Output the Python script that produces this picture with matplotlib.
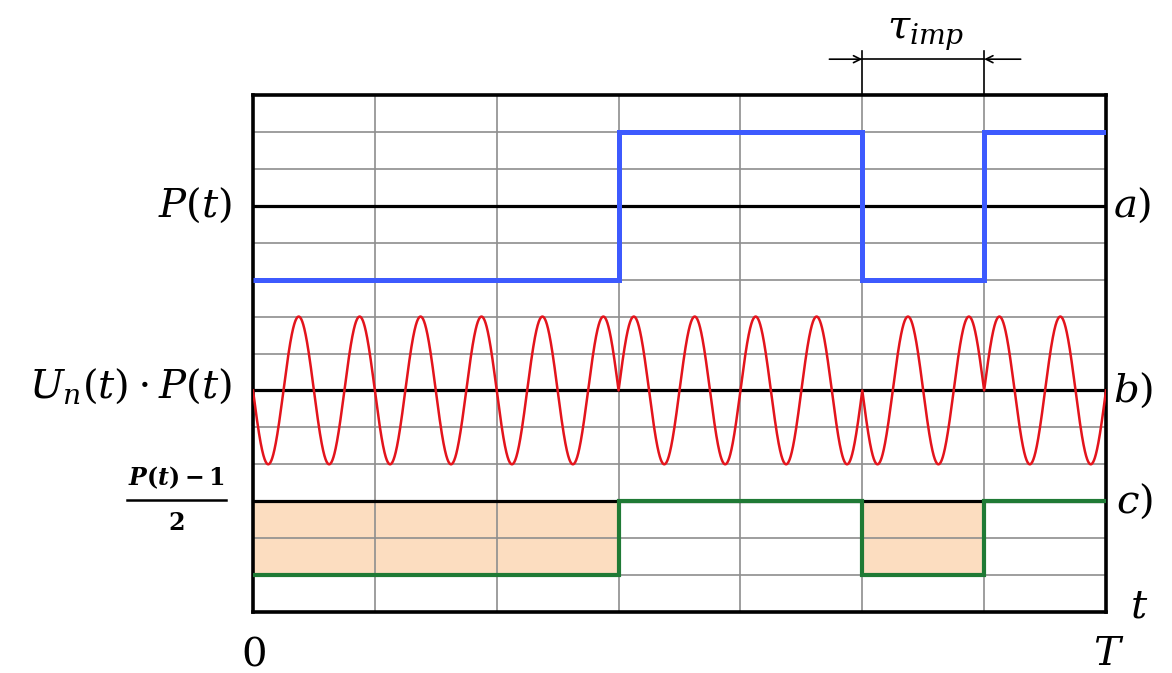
import matplotlib
matplotlib.use("Agg")
import matplotlib.pyplot as plt
import numpy as np

plt.rcParams.update(
    {
        "mathtext.fontset": "dejavuserif",
        "font.family": ["DejaVu Serif"],
    }
)

# switching instants of P(t) (units of the grid) and the level on each interval
T_EDGES = [0, 3, 5, 6, 7]
P_LEVELS = [-1, 1, -1, 1]

# trace baselines / amplitudes on the 0..14 vertical grid
A_BASE, A_AMP = 11, 2
B_BASE, B_AMP = 6, 2
C_BASE, C_AMP = 3, 2
CARRIER_PERIOD = 0.5

N_XDIV = 7
N_YDIV = 14

BLUE = "#3D5AFE"
RED = "#E3141C"
GREEN = "#1F7A35"
PEACH = "#FCDDC0"
GRID = "#8E8E8E"


def main() -> None:
    edges = np.array(T_EDGES, dtype=float)
    levels = np.array(P_LEVELS, dtype=float)

    fig = plt.figure(figsize=(11.72, 6.73), dpi=100)
    ax = fig.add_axes([253 / 1172, 1 - 612 / 673, 853 / 1172, 517 / 673])
    ax.set_xlim(0, N_XDIV)
    ax.set_ylim(0, N_YDIV)

    # grid
    ax.set_xticks(np.arange(N_XDIV + 1))
    ax.set_yticks(np.arange(N_YDIV + 1))
    ax.tick_params(length=0, labelbottom=False, labelleft=False)
    ax.set_axisbelow("line")
    ax.grid(True, color=GRID, linewidth=1.2)
    for s in ax.spines.values():
        s.set_linewidth(2.6)
        s.set_color("black")

    # reference (zero) lines of the three traces
    for yb in (A_BASE, B_BASE, C_BASE):
        ax.axhline(yb, color="black", linewidth=2.3, zorder=1.8)

    # a) P(t)
    ax.stairs(A_BASE + A_AMP * levels, edges, baseline=None, color=BLUE, linewidth=3.6, zorder=3)

    # b) U_n(t) * P(t)
    t = np.linspace(0, N_XDIV, 6000)
    p = levels[np.clip(np.searchsorted(edges, t, side="right") - 1, 0, len(levels) - 1)]
    u = np.sin(2 * np.pi * t / CARRIER_PERIOD)
    ax.plot(t, B_BASE + B_AMP * u * p, color=RED, linewidth=1.8, zorder=3)

    # c) (P(t)-1)/2
    c_vals = C_BASE + C_AMP * (levels - 1) / 2
    ax.stairs(c_vals, edges, baseline=C_BASE, fill=True, color=PEACH, linewidth=0, zorder=1)
    ax.stairs(c_vals, edges, baseline=None, color=GREEN, linewidth=3.0, zorder=3)

    # labels
    fs = 29
    ax.text(-0.17, A_BASE, r"$P(t)$", ha="right", va="center", fontsize=fs, clip_on=False)
    ax.text(-0.17, B_BASE + 0.1, r"$U_n(t)\cdot P(t)$", ha="right", va="center", fontsize=fs, clip_on=False)
    ax.text(-0.63, 3.63, r"$\mathbfit{P}\mathbf{(}\mathbfit{t}\mathbf{)-1}$", ha="center", va="center",
            fontsize=17, clip_on=False)
    ax.plot([-1.03, -0.22], [3.03, 3.03], color="black", linewidth=1.8, clip_on=False)
    ax.text(-0.63, 2.4, r"$\mathbf{2}$", ha="center", va="center", fontsize=17, clip_on=False)

    ax.text(7.06, A_BASE, r"$a)$", ha="left", va="center", fontsize=fs, clip_on=False)
    ax.text(7.06, B_BASE, r"$b)$", ha="left", va="center", fontsize=fs, clip_on=False)
    ax.text(7.08, C_BASE, r"$c)$", ha="left", va="center", fontsize=fs, clip_on=False)
    ax.text(7.2, 0.14, r"$t$", ha="left", va="center", fontsize=fs, clip_on=False)
    ax.text(0.0, -1.16, r"$0$", ha="center", va="center", fontsize=fs, clip_on=False)
    ax.text(7.02, -1.16, r"$T$", ha="center", va="center", fontsize=fs, clip_on=False)

    # tau_imp dimension
    t1, t2 = T_EDGES[2], T_EDGES[3]
    y_dim = 14.97
    for xv in (t1, t2):
        ax.plot([xv, xv], [N_YDIV, 15.2], color="black", linewidth=1.2, clip_on=False)
    ax.plot([t1, t2], [y_dim, y_dim], color="black", linewidth=1.2, clip_on=False)
    arrow = dict(arrowstyle="->,head_length=0.5,head_width=0.25", color="black", lw=1.2, shrinkA=0, shrinkB=0)
    ax.annotate("", xy=(t1, y_dim), xytext=(4.73, y_dim), arrowprops=arrow, annotation_clip=False)
    ax.annotate("", xy=(t2, y_dim), xytext=(6.3, y_dim), arrowprops=arrow, annotation_clip=False)
    ax.text((t1 + t2) / 2 + 0.02, 15.65, r"$\tau_{imp}$", ha="center", va="center", fontsize=fs, clip_on=False)

    fig.savefig("out.png", dpi=100, facecolor="white")
    plt.close(fig)


if __name__ == "__main__":
    main()
